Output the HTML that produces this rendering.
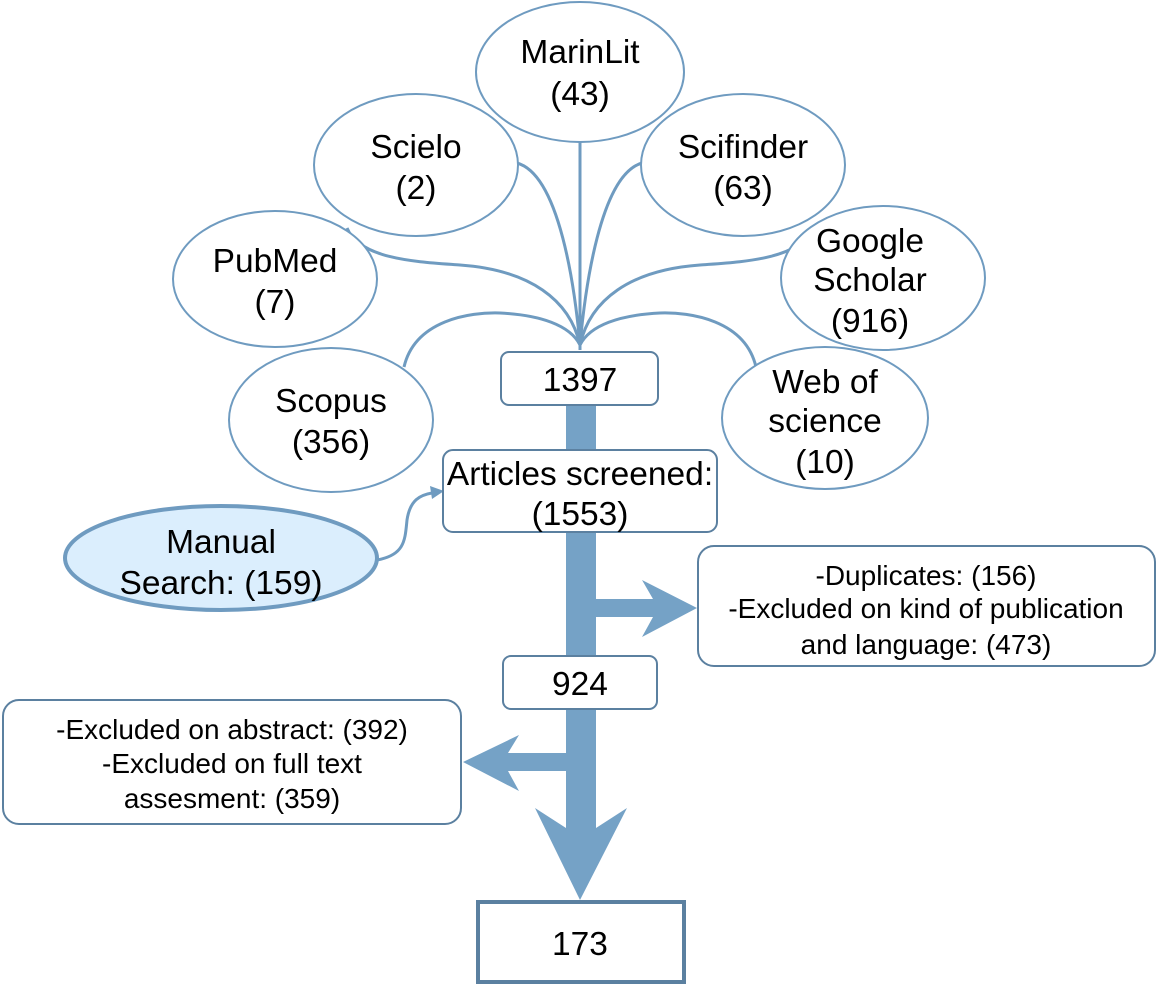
<!DOCTYPE html>
<html><head><meta charset="utf-8"><style>html,body{margin:0;padding:0;background:#fff}svg{display:block}text{font-family:"Liberation Sans",Arial,sans-serif;fill:#000;text-anchor:middle}</style></head>
<body>
<svg width="1160" height="996" viewBox="0 0 1160 996" xmlns="http://www.w3.org/2000/svg">
<g fill="none" stroke="#6f9bc0" stroke-width="3">
<path d="M580,142 L580,350"/>
<path d="M517,163 C560,175 575,290 580,345"/>
<path d="M642,163 C600,175 585,290 580,345"/>
<path d="M347,228 C360,260 420,262 460,265 C530,270 570,300 580,345"/>
<path d="M813,228 C800,260 740,262 700,265 C630,270 590,300 580,345"/>
<path d="M404,367 C415,320 470,312 500,313 C540,315 570,325 580,345"/>
<path d="M756,367 C745,320 690,312 660,313 C620,315 590,325 580,345"/>
<path d="M377,560 C405,555 405,540 407,520 C410,500 420,495 432,493"/>
</g>
<polygon points="444,491 430,486 432,499" fill="#6f9bc0"/>
<g fill="#fff" stroke="#6f9bc0" stroke-width="2">
<ellipse cx="580" cy="72" rx="104" ry="70"/>
<ellipse cx="416" cy="165" rx="102" ry="71"/>
<ellipse cx="743" cy="165" rx="102" ry="71"/>
<ellipse cx="275" cy="279" rx="102" ry="68"/>
<ellipse cx="883" cy="278" rx="102" ry="72"/>
<ellipse cx="331" cy="420" rx="102" ry="72"/>
<ellipse cx="825" cy="418" rx="103" ry="71"/>
</g>
<ellipse cx="221" cy="558" rx="156" ry="52" fill="#dbeefd" stroke="#6f9bc0" stroke-width="4"/>
<g fill="#75a2c6">
<rect x="566" y="405" width="30" height="425"/>
<polygon points="596,599 653,599 642,580 697,608 642,637 653,617 596,617"/>
<polygon points="566,753 508,753 519,735 463,762 519,791 508,771 566,771"/>
<polygon points="566,828 535,808 580,900 627,808 596,828"/>
</g>
<g fill="#fff" stroke="#5b80a0" stroke-width="2">
<rect x="501" y="352" width="157" height="53" rx="8"/>
<rect x="443" y="450" width="274" height="82" rx="10"/>
<rect x="698" y="546" width="457" height="120" rx="16"/>
<rect x="503" y="656" width="154" height="53" rx="8"/>
<rect x="3" y="700" width="458" height="124" rx="16"/>
</g>
<rect x="478" y="902" width="206" height="80" fill="#fff" stroke="#5b80a0" stroke-width="4"/>
<g font-size="33.5">
<text x="580" y="63">MarinLit</text><text x="580" y="105">(43)</text>
<text x="416" y="158">Scielo</text><text x="416" y="199">(2)</text>
<text x="743" y="158">Scifinder</text><text x="743" y="199">(63)</text>
<text x="275" y="272">PubMed</text><text x="275" y="313">(7)</text>
<text x="870" y="252">Google</text><text x="870" y="291">Scholar</text><text x="870" y="332">(916)</text>
<text x="331" y="412">Scopus</text><text x="331" y="453">(356)</text>
<text x="825" y="393">Web of</text><text x="825" y="432">science</text><text x="825" y="473">(10)</text>
<text x="221" y="553">Manual</text><text x="221" y="594">Search: (159)</text>
<text x="580" y="391">1397</text>
<text x="580" y="485">Articles screened:</text><text x="580" y="525">(1553)</text>
<text x="580" y="695">924</text>
<text x="580" y="955">173</text>
</g>
<g font-size="28">
<text x="926" y="585">-Duplicates: (156)</text>
<text x="926" y="618">-Excluded on kind of publication</text>
<text x="926" y="654">and language: (473)</text>
<text x="232" y="739">-Excluded on abstract: (392)</text>
<text x="232" y="773">-Excluded on full text</text>
<text x="232" y="808">assesment: (359)</text>
</g>
</svg>
</body></html>
